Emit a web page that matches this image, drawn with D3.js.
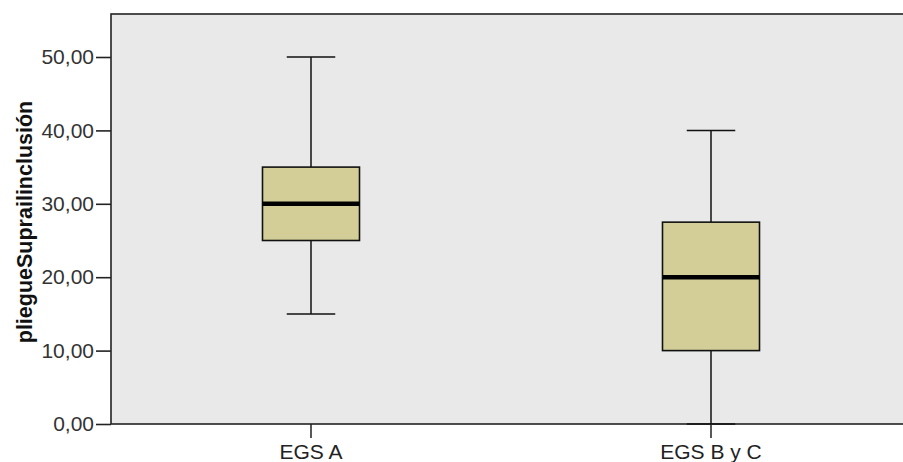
<!DOCTYPE html>
<html>
<head>
<meta charset="utf-8">
<script src="https://cdn.jsdelivr.net/npm/d3@7"></script>
<style>
  html, body { margin: 0; padding: 0; background: #fff; }
  svg { display: block; }
</style>
</head>
<body>
<svg id="chart" width="903" height="462"></svg>
<script>
// Box plot summaries per group
const groups = ["EGS A", "EGS B y C"];
const whiskerLow = [15, 0];
const quartile1 = [25, 10];
const medians = [30, 20];
const quartile3 = [35, 27.5];
const whiskerHigh = [50, 40];
const yTicks = [0, 10, 20, 30, 40, 50];
const yTitle = "pliegueSuprailinclusión";

const svg = d3.select("#chart");
const plotLeft = 111, plotRight = 911, plotTop = 14, plotBottom = 424;

const x = d3.scaleBand().domain(groups).range([plotLeft, plotRight]).padding(0);
const y = d3.scaleLinear().domain([0, 50]).range([plotBottom, 57]);

const fmt = d => d3.format(".2f")(d).replace(".", ",");

// plot background
svg.append("rect")
  .attr("x", plotLeft).attr("y", plotTop)
  .attr("width", plotRight - plotLeft).attr("height", plotBottom - plotTop)
  .attr("fill", "#e9e9e9")
  .attr("stroke", "#222").attr("stroke-width", 1.6);

const boxW = x.bandwidth() * 0.2425;
const capW = boxW / 2;

const data = groups.map((g, i) => ({
  g, lo: whiskerLow[i], q1: quartile1[i], med: medians[i], q3: quartile3[i], hi: whiskerHigh[i]
}));

const box = svg.append("g").selectAll("g").data(data).join("g")
  .attr("transform", d => `translate(${x(d.g) + x.bandwidth() / 2},0)`);

// whiskers
box.append("line")
  .attr("x1", 0).attr("x2", 0)
  .attr("y1", d => y(d.q3)).attr("y2", d => y(d.hi))
  .attr("stroke", "#111").attr("stroke-width", 1.5);
box.append("line")
  .attr("x1", 0).attr("x2", 0)
  .attr("y1", d => y(d.q1)).attr("y2", d => y(d.lo))
  .attr("stroke", "#111").attr("stroke-width", 1.5);
box.append("line")
  .attr("x1", -capW / 2).attr("x2", capW / 2)
  .attr("y1", d => y(d.hi)).attr("y2", d => y(d.hi))
  .attr("stroke", "#111").attr("stroke-width", 1.5);
box.append("line")
  .attr("x1", -capW / 2).attr("x2", capW / 2)
  .attr("y1", d => y(d.lo)).attr("y2", d => y(d.lo))
  .attr("stroke", "#111").attr("stroke-width", 1.5);

// boxes
box.append("rect")
  .attr("x", -boxW / 2).attr("width", boxW)
  .attr("y", d => y(d.q3)).attr("height", d => y(d.q1) - y(d.q3))
  .attr("fill", "#d3ce98")
  .attr("stroke", "#111").attr("stroke-width", 1.6);

// medians
box.append("line")
  .attr("x1", -boxW / 2).attr("x2", boxW / 2)
  .attr("y1", d => y(d.med)).attr("y2", d => y(d.med))
  .attr("stroke", "#000").attr("stroke-width", 4.5);

// y axis
const yAxis = svg.append("g")
  .attr("transform", `translate(${plotLeft},0)`)
  .call(d3.axisLeft(y).tickValues(yTicks).tickFormat(fmt).tickSize(15).tickPadding(2));
yAxis.select(".domain").remove();
yAxis.selectAll(".tick line").attr("stroke", "#222").attr("stroke-width", 1.6);
yAxis.selectAll(".tick text")
  .attr("fill", "#333")
  .style("font-family", "'Liberation Sans', Arial, sans-serif")
  .style("font-size", "21px");

// x axis
const xAxis = svg.append("g")
  .attr("transform", `translate(0,${plotBottom})`)
  .call(d3.axisBottom(x).tickSize(14).tickPadding(6));
xAxis.select(".domain").remove();
xAxis.selectAll(".tick line").attr("stroke", "#222").attr("stroke-width", 1.5);
xAxis.selectAll(".tick text")
  .attr("fill", "#222")
  .style("font-family", "'Liberation Sans', Arial, sans-serif")
  .style("font-size", "21px");

// y title
svg.append("text")
  .attr("transform", `translate(32,222) rotate(-90)`)
  .attr("text-anchor", "middle")
  .attr("fill", "#111")
  .style("font-family", "'Liberation Sans', Arial, sans-serif")
  .style("font-weight", "bold")
  .style("font-size", "21.5px")
  .text(yTitle);
</script>
</body>
</html>
